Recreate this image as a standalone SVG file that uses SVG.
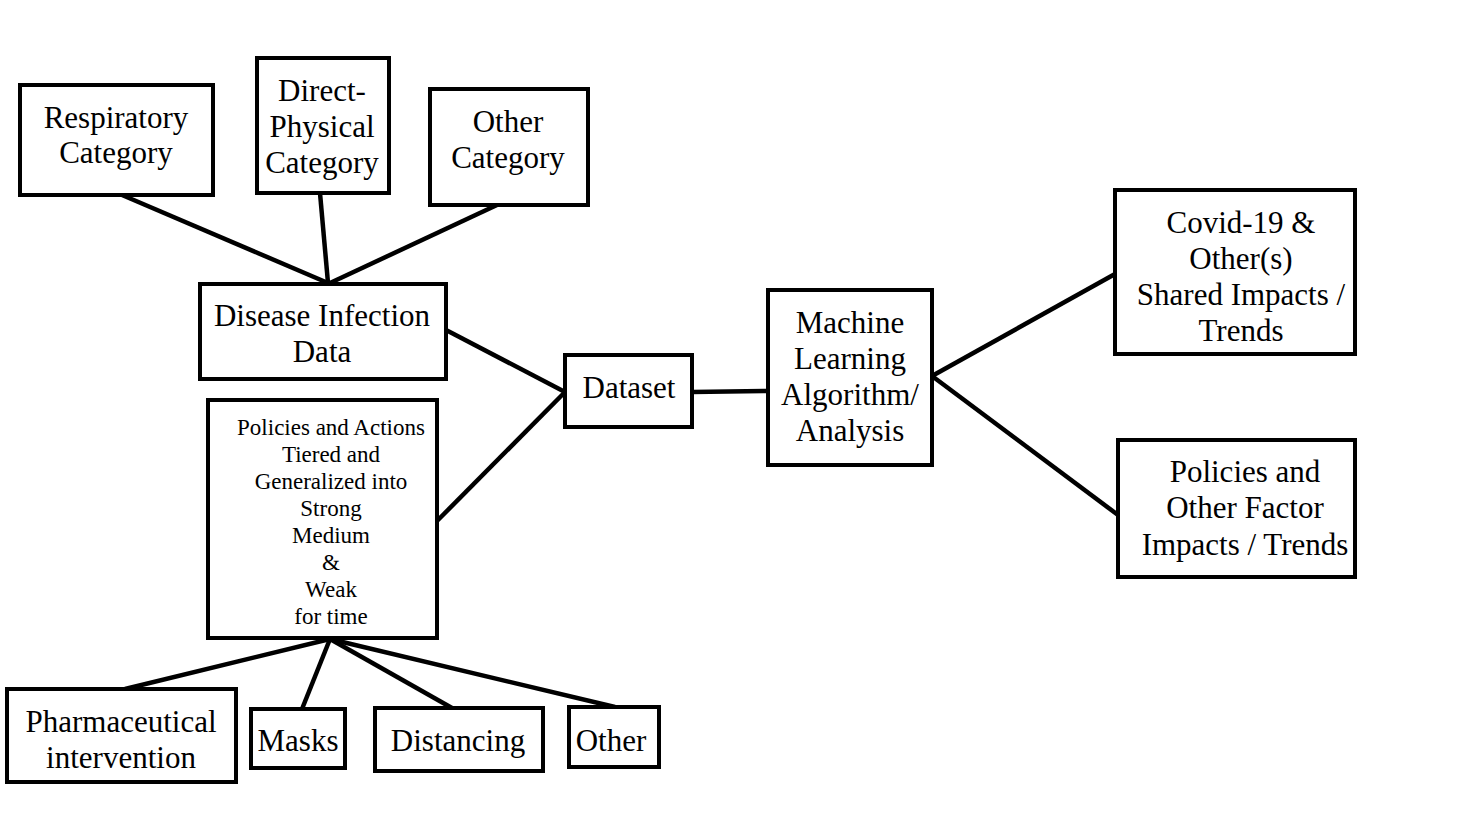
<svg xmlns="http://www.w3.org/2000/svg" width="1476" height="832" viewBox="0 0 1476 832">
<style>
.box{fill:#fff;stroke:#000;stroke-width:4}
.t{font-family:"Liberation Serif","Times New Roman",serif;font-size:31px;fill:#000;text-anchor:middle}
.s{font-family:"Liberation Serif","Times New Roman",serif;font-size:23px;fill:#000;text-anchor:middle}
.c line{stroke:#000;stroke-width:4.5}
</style>
<rect width="1476" height="832" fill="#fff"/>
<g class="c" id="connectors">
<line x1="122" y1="195" x2="328" y2="283"/>
<line x1="320" y1="193" x2="328" y2="283"/>
<line x1="497" y1="205" x2="330" y2="283"/>
<line x1="446" y1="330" x2="565" y2="392"/>
<line x1="437" y1="521" x2="565" y2="392"/>
<line x1="692" y1="392" x2="768" y2="391"/>
<line x1="932" y1="376" x2="1115" y2="274"/>
<line x1="932" y1="376" x2="1118" y2="515"/>
<line x1="330" y1="639" x2="125" y2="689"/>
<line x1="330" y1="639" x2="302" y2="709"/>
<line x1="330" y1="639" x2="452" y2="708"/>
<line x1="330" y1="639" x2="615" y2="707"/>
</g>
<g id="respiratory"><rect class="box" x="20" y="85" width="193" height="110"/><text class="t" x="116" y="128">Respiratory</text><text class="t" x="116" y="163">Category</text></g>
<g id="direct"><rect class="box" x="257" y="58" width="132" height="135"/><text class="t" x="322" y="101">Direct-</text><text class="t" x="322" y="137">Physical</text><text class="t" x="322" y="173">Category</text></g>
<g id="othercat"><rect class="box" x="430" y="89" width="158" height="116"/><text class="t" x="508" y="132">Other</text><text class="t" x="508" y="168">Category</text></g>
<g id="disease"><rect class="box" x="200" y="284" width="246" height="95"/><text class="t" x="322" y="326">Disease Infection</text><text class="t" x="322" y="362">Data</text></g>
<g id="policies"><rect class="box" x="208" y="400" width="229" height="238"/>
<text class="s" x="331" y="435">Policies and Actions</text>
<text class="s" x="331" y="462">Tiered and</text>
<text class="s" x="331" y="489">Generalized into</text>
<text class="s" x="331" y="516">Strong</text>
<text class="s" x="331" y="543">Medium</text>
<text class="s" x="331" y="570">&amp;</text>
<text class="s" x="331" y="597">Weak</text>
<text class="s" x="331" y="624">for time</text></g>
<g id="dataset"><rect class="box" x="565" y="355" width="127" height="72"/><text class="t" x="629" y="398">Dataset</text></g>
<g id="ml"><rect class="box" x="768" y="290" width="164" height="175"/><text class="t" x="850" y="333">Machine</text><text class="t" x="850" y="369">Learning</text><text class="t" x="850" y="405">Algorithm/</text><text class="t" x="850" y="441">Analysis</text></g>
<g id="covid"><rect class="box" x="1115" y="190" width="240" height="164"/><text class="t" x="1241" y="233">Covid-19 &amp;</text><text class="t" x="1241" y="269">Other(s)</text><text class="t" x="1241" y="305">Shared Impacts /</text><text class="t" x="1241" y="341">Trends</text></g>
<g id="policiesother"><rect class="box" x="1118" y="440" width="237" height="137"/><text class="t" x="1245" y="482">Policies and</text><text class="t" x="1245" y="518">Other Factor</text><text class="t" x="1245" y="555">Impacts / Trends</text></g>
<g id="pharma"><rect class="box" x="7" y="689" width="229" height="93"/><text class="t" x="121" y="732">Pharmaceutical</text><text class="t" x="121" y="768">intervention</text></g>
<g id="masks"><rect class="box" x="251" y="709" width="94" height="59"/><text class="t" x="298" y="751">Masks</text></g>
<g id="distancing"><rect class="box" x="375" y="708" width="168" height="63"/><text class="t" x="458" y="751">Distancing</text></g>
<g id="other"><rect class="box" x="569" y="707" width="90" height="60"/><text class="t" x="611" y="751">Other</text></g>
</svg>
